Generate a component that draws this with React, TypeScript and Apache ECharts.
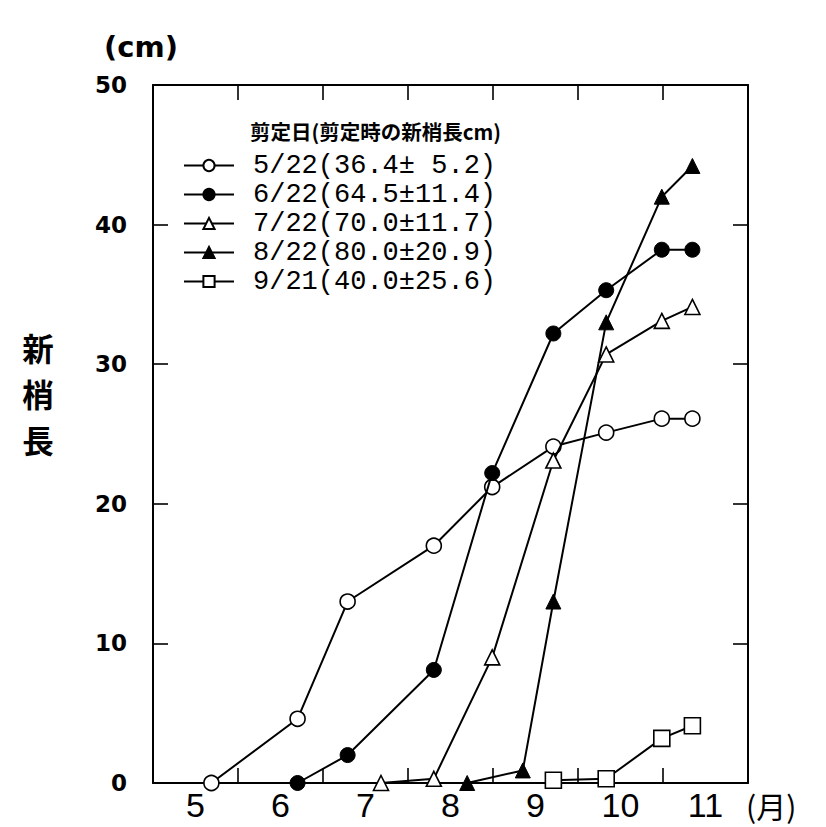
import React, { useEffect, useRef } from "react";
import * as echarts from "echarts";

// x values are days counted from May 1 (May 1 = 0)
const months = ["5", "6", "7", "8", "9", "10", "11"];
const pruneDates = ["5/22", "6/22", "7/22", "8/22", "9/21"];
const pruneLengths = ["36.4± 5.2", "64.5±11.4", "70.0±11.7", "80.0±20.9", "40.0±25.6"];

const s1Days = [21, 52, 70, 101, 122, 144, 163, 183, 194];
const s1Vals = [0, 4.6, 13, 17, 21.2, 24.1, 25.1, 26.1, 26.1];
const s2Days = [52, 70, 101, 122, 144, 163, 183, 194];
const s2Vals = [0, 2, 8.1, 22.2, 32.2, 35.3, 38.2, 38.2];
const s3Days = [82, 101, 122, 144, 163, 183, 194];
const s3Vals = [0, 0.3, 9, 23.1, 30.7, 33.1, 34.1];
const s4Days = [113, 133, 144, 163, 183, 194];
const s4Vals = [0, 0.9, 13, 33, 42, 44.2];
const s5Days = [144, 163, 183, 194];
const s5Vals = [0.2, 0.3, 3.2, 4.1];

const legendTitle = "剪定日(剪定時の新梢長cm)";
const yNameChars = ["新", "梢", "長"];
const yUnit = "(cm)";
const xUnit = "(月)";

export default function App() {
  const ref = useRef<HTMLDivElement>(null);
  useEffect(() => {
    if (!ref.current) return;
    const chart = echarts.init(ref.current, null, { renderer: "svg" });
    const zip = (d: number[], v: number[]) => d.map((x, i) => [x, v[i]]);
    const hollow = { color: "#fff", borderColor: "#000", borderWidth: 1.6 };
    const filled = { color: "#000", borderColor: "#000", borderWidth: 1 };
    const defs = [
      { d: zip(s1Days, s1Vals), sym: "circle", size: 15, st: hollow },
      { d: zip(s2Days, s2Vals), sym: "circle", size: 15, st: filled },
      { d: zip(s3Days, s3Vals), sym: "triangle", size: 15, st: hollow },
      { d: zip(s4Days, s4Vals), sym: "triangle", size: 15, st: filled },
      { d: zip(s5Days, s5Vals), sym: "rect", size: 16, st: hollow },
    ];
    const names = pruneDates.map((d, i) => `${d}(${pruneLengths[i]})`);
    const axisLine = { show: true, onZero: false, lineStyle: { color: "#000", width: 2 } };
    const tick = { show: true, inside: true, length: 15, lineStyle: { color: "#000", width: 1.6 } };
    chart.setOption({
      animation: false,
      backgroundColor: "#fff",
      grid: { left: 153, right: 78, top: 85, bottom: 44 },
      xAxis: [
        { type: "value", min: 0, max: 214, show: false },
        {
          type: "category",
          data: months,
          position: "bottom",
          boundaryGap: true,
          axisLine,
          axisTick: tick,
          axisLabel: {
            color: "#000",
            fontFamily: "Liberation Sans",
            fontSize: 34,
            lineHeight: 34,
            margin: 5,
          },
          splitLine: { show: false },
        },
        {
          type: "category",
          data: months,
          position: "top",
          boundaryGap: true,
          axisLine,
          axisTick: tick,
          axisLabel: { show: false },
          splitLine: { show: false },
        },
      ],
      yAxis: [
        {
          type: "value",
          min: 0,
          max: 50,
          interval: 10,
          position: "left",
          axisLine,
          axisTick: tick,
          axisLabel: {
            color: "#000",
            fontFamily: "DejaVu Sans",
            fontWeight: "bold",
            fontSize: 23,
            margin: 26,
          },
          splitLine: { show: false },
        },
        {
          type: "value",
          min: 0,
          max: 50,
          interval: 10,
          position: "right",
          axisLine,
          axisTick: tick,
          axisLabel: { show: false },
          splitLine: { show: false },
        },
      ],
      legend: {
        orient: "vertical",
        left: 183,
        top: 152,
        padding: 0,
        itemWidth: 50,
        itemHeight: 14,
        itemGap: 2,
        data: names,
        textStyle: {
          color: "#000",
          fontFamily: "Liberation Mono",
          fontSize: 27,
          padding: [0, 0, 0, 14],
        },
      },
      graphic: [
        {
          type: "text",
          left: 250,
          top: 121,
          style: {
            text: legendTitle,
            fontFamily: "Noto Sans CJK JP",
            fontWeight: "bold",
            fontSize: 20.5,
            fill: "#000",
          },
        },
        {
          type: "text",
          x: 141,
          y: 47,
          style: {
            text: yUnit,
            fontFamily: "DejaVu Sans",
            fontWeight: "bold",
            fontSize: 29,
            fill: "#000",
            align: "center",
            verticalAlign: "middle",
          },
        },
        ...yNameChars.map((c, i) => ({
          type: "text",
          x: 38,
          y: 347 + i * 46,
          style: {
            text: c,
            fontFamily: "Noto Sans CJK JP",
            fontWeight: "bold",
            fontSize: 31.5,
            lineHeight: 34,
            fill: "#000",
            align: "center",
            verticalAlign: "middle",
          },
        })),
        {
          type: "text",
          x: 746,
          y: 805,
          style: {
            text: xUnit,
            fontFamily: "Noto Sans CJK JP",
            fontSize: 30,
            lineHeight: 32,
            fill: "#000",
            align: "left",
            verticalAlign: "middle",
          },
        },
      ],
      series: defs.map((s, i) => ({
        type: "line",
        name: names[i],
        xAxisIndex: 0,
        yAxisIndex: 0,
        data: s.d,
        symbol: s.sym,
        symbolSize: s.size,
        showAllSymbol: true,
        lineStyle: { color: "#000", width: 2 },
        itemStyle: s.st,
        z: 2 + i,
      })),
    });
    return () => chart.dispose();
  }, []);
  return (
    <div
      ref={ref}
      style={{ position: "fixed", left: 0, top: 0, width: 826, height: 827 }}
    />
  );
}
